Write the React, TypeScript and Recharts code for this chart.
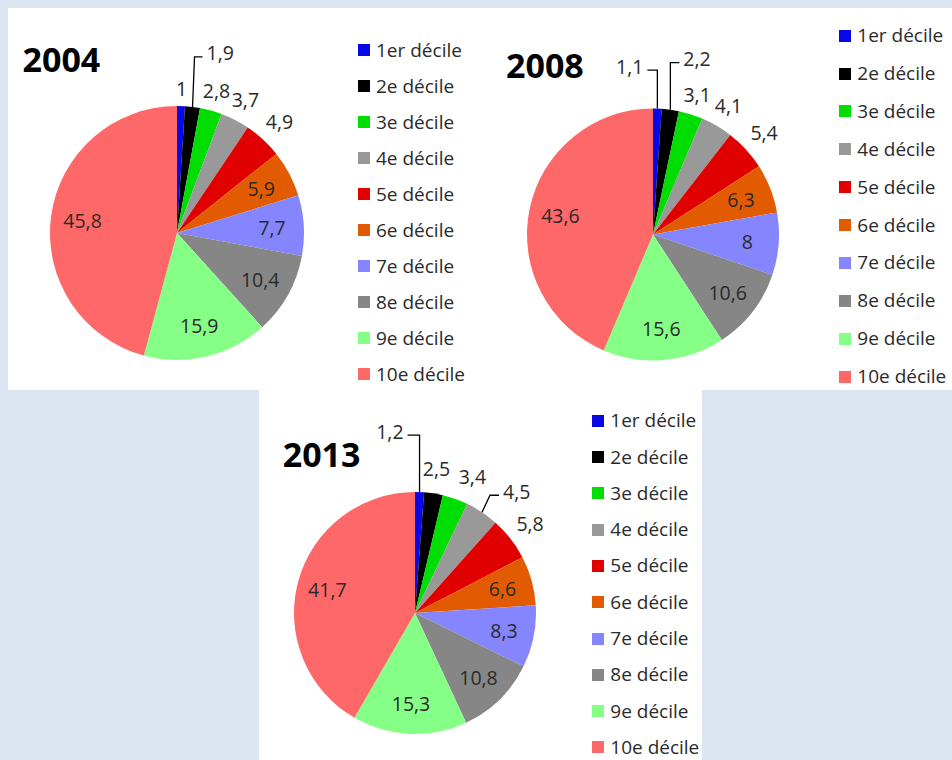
import React from 'react';
import { PieChart, Pie, Cell, Legend } from 'recharts';

const CATEGORIES = ['1er décile', '2e décile', '3e décile', '4e décile', '5e décile', '6e décile', '7e décile', '8e décile', '9e décile', '10e décile'];
const VALUES_2004 = [1, 1.9, 2.8, 3.7, 4.9, 5.9, 7.7, 10.4, 15.9, 45.8];
const VALUES_2008 = [1.1, 2.2, 3.1, 4.1, 5.4, 6.3, 8, 10.6, 15.6, 43.6];
const VALUES_2013 = [1.2, 2.5, 3.4, 4.5, 5.8, 6.6, 8.3, 10.8, 15.3, 41.7];
const COLORS = ['#0808E6', '#000000', '#00DD00', '#999999', '#E00000', '#E35B00', '#8585FF', '#868686', '#86FF86', '#FF6868'];

const FONT = '"Open Sans", "Noto Sans", sans-serif';
const LABEL_SIZE = 19.5;
const LEGEND_SIZE = 19;
const TEXT_COLOR = '#2A2A2A';
const RAD = Math.PI / 180;
const OUTSIDE_BELOW = 5.85;

type Callout = { dx: number; dy: number; side?: number; len?: number };

const fmt = (v: number) => String(v).replace('.', ',');

const textWidth = (s: string, fs: number) =>
  s.split('').reduce((a, c) => a + (c === ',' ? 0.25 : 0.572), 0) * fs;

const makeLabel = (callouts: Record<number, Callout>, nudges: Record<number, Callout>) => (props: any) => {
  const { cx, cy, midAngle, outerRadius, value, index } = props;
  const ang = -midAngle * RAD;
  const ux = Math.cos(ang);
  const uy = Math.sin(ang);
  const ex = cx + ux * outerRadius;
  const ey = cy + uy * outerRadius;
  const txt = fmt(value);
  const co = callouts[index];
  if (co) {
    const side = co.side ?? 1;
    const bx = ex + co.dx;
    const by = ey + co.dy;
    const endX = bx + side * (co.len ?? 9);
    return (
      <g key={`l-${index}`}>
        <path d={`M${ex},${ey}L${bx},${by}L${endX},${by}`} stroke="#000" strokeWidth={1.3} fill="none" />
        <text x={endX + side * 4} y={by - 4} textAnchor={side > 0 ? 'start' : 'end'} dominantBaseline="central"
          fontSize={LABEL_SIZE} fontFamily={FONT} fill={TEXT_COLOR}>{txt}</text>
      </g>
    );
  }
  if (value < OUTSIDE_BELOW) {
    const hw = textWidth(txt, LABEL_SIZE) / 2;
    const hh = 9;
    const off = 8.5 + Math.abs(ux) * hw + Math.abs(uy) * hh;
    const n = nudges[index] || { dx: 0, dy: 0 };
    return (
      <text key={`l-${index}`} x={ex + ux * off + n.dx} y={ey + uy * off + n.dy} textAnchor="middle" dominantBaseline="central"
        fontSize={LABEL_SIZE} fontFamily={FONT} fill={TEXT_COLOR}>{txt}</text>
    );
  }
  const r = outerRadius * 0.75;
  return (
    <text key={`l-${index}`} x={cx + ux * r} y={cy + uy * r} textAnchor="middle" dominantBaseline="central"
      fontSize={LABEL_SIZE} fontFamily={FONT} fill={TEXT_COLOR}>{txt}</text>
  );
};

const makeLegend = (spacing: number) => (props: any) => {
  const payload: any[] = props.payload || [];
  return (
    <div style={{ fontFamily: FONT, fontSize: LEGEND_SIZE, color: TEXT_COLOR }}>
      {CATEGORIES.map((name, i) => {
        const entry = payload.find((e) => e.value === name);
        return (
          <div key={name} style={{ height: spacing, display: 'flex', alignItems: 'center', whiteSpace: 'nowrap' }}>
            <span style={{ display: 'inline-block', width: 12, height: 12, background: COLORS[i] ?? entry?.color, marginRight: 6 }} />
            <span style={{ lineHeight: 1 }}>{entry?.value ?? name}</span>
          </div>
        );
      })}
    </div>
  );
};

type PanelProps = {
  year: string;
  values: number[];
  left: number;
  top: number;
  width: number;
  height: number;
  cx: number;
  cy: number;
  r: number;
  titleX: number;
  titleY: number;
  legendX: number;
  legendY: number;
  spacing: number;
  callouts: Record<number, Callout>;
  nudges?: Record<number, Callout>;
};

const PiePanel = (p: PanelProps) => {
  const data = CATEGORIES.map((name, i) => ({ name, value: p.values[i] }));
  return (
    <div style={{ position: 'absolute', left: p.left, top: p.top, width: p.width, height: p.height }}>
      <PieChart width={p.width} height={p.height} margin={{ top: 0, right: 0, bottom: 0, left: 0 }}>
        <text x={p.titleX} y={p.titleY} fontSize={34} fontWeight="bold" fontFamily={FONT} fill="#000">{p.year}</text>
        <Pie
          data={data}
          dataKey="value"
          nameKey="name"
          cx={p.cx}
          cy={p.cy}
          outerRadius={p.r}
          startAngle={90}
          endAngle={-270}
          stroke="none"
          isAnimationActive={false}
          labelLine={false}
          label={makeLabel(p.callouts, p.nudges || {})}
        >
          {data.map((d, i) => (
            <Cell key={d.name} fill={COLORS[i]} stroke="none" />
          ))}
        </Pie>
        <Legend
          layout="vertical"
          align="right"
          verticalAlign="top"
          content={makeLegend(p.spacing)}
          wrapperStyle={{ left: p.legendX, top: p.legendY, right: 'auto', width: 115 }}
        />
      </PieChart>
    </div>
  );
};

export default function App() {
  return (
    <div style={{ position: 'absolute', left: 0, top: 0, width: 952, height: 760, background: '#DCE6F2', overflow: 'hidden', fontFamily: FONT }}>
      <div style={{ position: 'absolute', left: 8, top: 8, width: 944, height: 382, background: '#fff' }} />
      <div style={{ position: 'absolute', left: 259, top: 390, width: 443, height: 370, background: '#fff' }} />
      <PiePanel year="2004" values={VALUES_2004} left={0} top={0} width={480} height={390}
        cx={177} cy={233} r={127} titleX={22.5} titleY={71.5}
        legendX={358} legendY={32} spacing={36}
        callouts={{ 1: { dx: 2, dy: -50, side: 1, len: 8 } }} />
      <PiePanel year="2008" values={VALUES_2008} left={480} top={0} width={472} height={390}
        cx={173} cy={234.5} r={126} titleX={26} titleY={78}
        legendX={359.3} legendY={16.7} spacing={37.9}
        callouts={{ 0: { dx: 0, dy: -38.5, side: -1, len: 10 }, 1: { dx: 0, dy: -47, side: 1, len: 9 } }} />
      <PiePanel year="2013" values={VALUES_2013} left={259} top={390} width={443} height={370}
        cx={156} cy={223} r={121} titleX={23.7} titleY={77.3}
        legendX={333.3} legendY={12.6} spacing={36.3}
        callouts={{ 0: { dx: 0, dy: -57, side: -1, len: 12 }, 3: { dx: 8, dy: -17, side: 1, len: 9 } }}
        nudges={{ 1: { dx: 0, dy: -6 }, 2: { dx: 10, dy: -2 } }} />
    </div>
  );
}
